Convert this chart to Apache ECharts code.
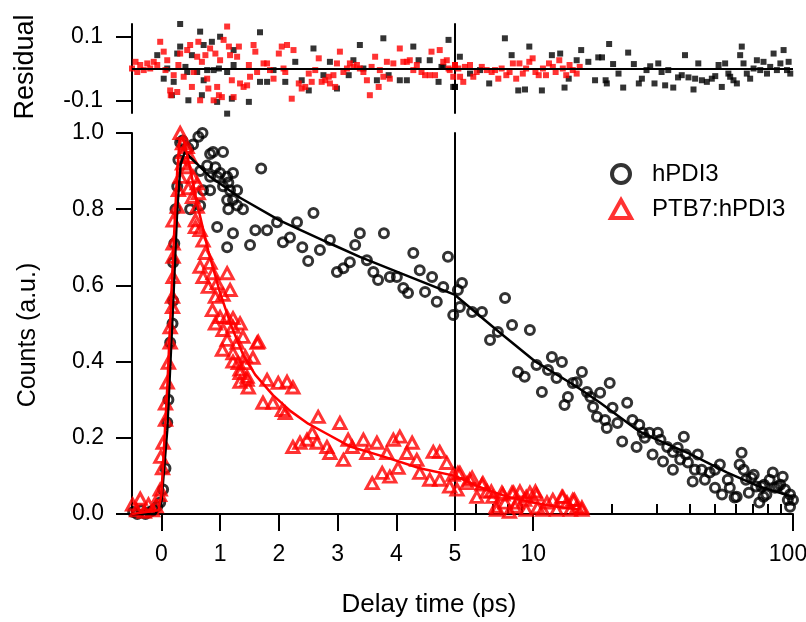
<!DOCTYPE html>
<html>
<head>
<meta charset="utf-8">
<script src="https://cdn.jsdelivr.net/npm/echarts@6.0.0/dist/echarts.min.js"></script>
<style>
html,body{margin:0;padding:0;background:#fff;}
#chart{width:806px;height:622px;}
</style>
</head>
<body>
<div id="chart"></div>
<script>
// ---------------- DATA ----------------
const xLinTicks = [0, 1, 2, 3, 4, 5];
const xLogMajor = [10, 100];
const xLogMinor = [6, 7, 8, 9, 20, 30, 40, 50, 60, 70, 80, 90];
const yMainTicks = [0, 0.2, 0.4, 0.6, 0.8, 1.0];
const yResTicks = [-0.1, 0.1];

const seriesNames = ['hPDI3', 'PTB7:hPDI3'];

// hPDI3 counts [delay ps, counts]
const hpdi3Counts = [
[-0.48,0.005],[-0.41,0],[-0.34,0.01],[-0.27,0.0],[-0.20,0.005],[-0.14,0.01],[-0.07,0.02],[-0.02,0.03],
[0.03,0.064],[0.07,0.12],[0.10,0.24],[0.12,0.30],[0.15,0.45],[0.19,0.50],[0.20,0.56],[0.20,0.66],[0.22,0.71],[0.24,0.80],[0.27,0.86],[0.29,0.93],[0.32,0.975],[0.36,0.98],[0.46,0.96],[0.54,0.97],[0.63,0.99],[0.70,1.0],
[0.49,0.80],[0.66,0.81],[0.66,0.90],[0.78,0.915],[0.83,0.945],[0.88,0.95],[0.92,0.91],[0.83,0.885],[0.83,0.85],[0.71,0.85],[1.0,0.895],[1.05,0.95],[0.95,0.885],[1.05,0.86],[1.12,0.885],[1.14,0.87],[1.17,0.85],[1.22,0.895],[1.29,0.85],[1.12,0.824],[1.22,0.824],[1.14,0.80],[1.39,0.80],[1.29,0.81],[1.70,0.907],[0.95,0.753],[1.22,0.737],[1.12,0.70],[1.51,0.706],[1.60,0.745],[1.80,0.745],[1.97,0.766],[2.07,0.713],[2.19,0.726],[2.31,0.766],[2.40,0.70],[2.50,0.664],[2.59,0.79],[2.70,0.693],[2.87,0.719],[2.99,0.635],[3.10,0.645],[3.21,0.661],[3.30,0.706],[3.38,0.737],[3.50,0.666],[3.61,0.635],[3.69,0.614],[3.79,0.737],[3.89,0.622],[4.01,0.622],[4.12,0.593],[4.20,0.58],[4.29,0.685],[4.40,0.64],[4.49,0.583],[4.61,0.622],[4.69,0.557],[4.80,0.596],[4.88,0.675],[4.97,0.522],
[5.13,0.588],[5.22,0.543],[5.32,0.606],[5.82,0.53],[6.35,0.53],[6.82,0.457],[7.31,0.478],[7.79,0.567],[8.29,0.496],[8.74,0.373],[9.27,0.36],[9.71,0.483],[10.3,0.391],[10.8,0.32],[11.4,0.378],[11.8,0.412],[12.3,0.357],[12.9,0.399],[13.2,0.286],[13.6,0.307],[14.2,0.344],[14.7,0.346],[15.4,0.373],[16.1,0.32],[16.6,0.307],[17.0,0.281],[17.6,0.255],[18.1,0.318],[18.9,0.247],[19.2,0.226],[19.7,0.344],[20.2,0.279],[21.1,0.239],[22.0,0.19],[23.0,0.292],[24.1,0.247],[25.0,0.176],[25.6,0.234],[26.4,0.213],[26.9,0.2],[28.0,0.213],[28.8,0.156],[30.2,0.213],[30.9,0.195],[31.6,0.138],[32.8,0.176],[34.5,0.116],[34.5,0.163],[36.0,0.174],[36.8,0.143],[38.0,0.203],[38.7,0.156],[39.4,0.135],[41.1,0.085],[41.9,0.116],[43.0,0.156],[44.5,0.116],[45.8,0.09],[47.8,0.109],[50.1,0.116],[50.1,0.069],[52.3,0.13],[53.3,0.051],[56.1,0.09],[57.1,0.069],[59.6,0.043],[60.7,0.045],[62.3,0.13],[63.4,0.161],[64.6,0.116],[65.9,0.09],[67.6,0.056],[69.2,0.095],[70.6,0.103],[72.1,0.072],[74.2,0.03],[75.6,0.072],[77.0,0.045],[77.4,0.077],[79.0,0.051],[81.3,0.09],[83.6,0.109],[85.2,0.069],[87.4,0.072],[89.3,0.077],[91.3,0.098],[93.1,0.064],[95.5,0.037],[97.4,0.051],[97.4,0.019],[100,0.037]
];

// hPDI3 fit
const hpdi3Fit = [
[-0.5,0],[-0.1,0],[0,0.03],[0.1,0.22],[0.2,0.55],[0.27,0.8],[0.33,0.92],[0.4,0.95],[0.5,0.935],[0.6,0.92],[0.83,0.885],[1.34,0.83],[2.02,0.77],[2.93,0.706],[3.38,0.675],[4.06,0.633],[5,0.575],
[6.35,0.515],[7.47,0.475],[10.1,0.402],[14.7,0.334],[18.1,0.292],[25.7,0.216],[29.9,0.195],[40.1,0.158],[55.6,0.109],[74.2,0.072],[100,0.045]
];

// PTB7:hPDI3 counts
const ptbCounts = [
[-0.49,0.025],[-0.42,0.01],[-0.36,0.04],[-0.29,0.006],[-0.22,0.025],[-0.15,0.01],[-0.09,0.02],[-0.03,0.05],
[-0.02,0.064],[0.02,0.12],[-0.01,0.15],[0.03,0.187],[0.07,0.247],[0.07,0.29],[0.10,0.345],[0.12,0.397],[0.15,0.45],[0.15,0.49],[0.19,0.543],[0.19,0.57],[0.20,0.622],[0.20,0.675],[0.20,0.71],[0.20,0.77],[0.27,0.806],[0.29,0.85],[0.32,0.885],[0.36,0.92],[0.37,0.95],[0.36,0.973],[0.32,1.0],
[0.44,0.963],[0.49,0.937],[0.44,0.91],[0.54,0.885],[0.61,0.868],[0.46,0.855],[0.53,0.832],[0.63,0.842],[0.61,0.806],[0.58,0.771],[0.58,0.753],[0.66,0.745],[0.71,0.718],[0.75,0.685],[0.66,0.649],[0.83,0.659],[0.71,0.622],[0.88,0.632],[0.80,0.596],[0.95,0.606],[1.12,0.632],[0.92,0.57],[1.05,0.575],[1.17,0.588],[0.87,0.535],[1.0,0.517],[1.12,0.517],[1.22,0.514],[0.92,0.5],[1.05,0.483],[1.22,0.491],[1.34,0.5],[1.12,0.457],[1.29,0.449],[1.39,0.465],[1.22,0.422],[1.31,0.396],[1.43,0.396],[1.34,0.37],[1.46,0.352],[1.63,0.449],[1.04,0.431],[1.43,0.413],[1.56,0.41],[1.22,0.40],[1.34,0.379],[1.46,0.36],[1.34,0.347],[1.48,0.332],[1.65,0.452],[1.80,0.352],[1.99,0.344],[2.14,0.347],[2.24,0.332],[1.73,0.292],[1.90,0.292],[2.06,0.273],[2.11,0.265],[2.24,0.176],[2.36,0.187],[2.48,0.195],[2.57,0.213],[2.67,0.255],[2.65,0.187],[2.82,0.176],[2.87,0.16],[3.04,0.239],[3.1,0.142],[3.18,0.195],[3.25,0.176],[3.44,0.195],[3.5,0.16],[3.59,0.081],[3.67,0.187],[3.76,0.108],[3.84,0.16],[3.89,0.098],[3.95,0.195],[4.06,0.203],[4.03,0.121],[4.18,0.16],[4.27,0.187],[4.35,0.142],[4.40,0.108],[4.57,0.09],[4.63,0.163],[4.74,0.163],[4.74,0.09],[4.86,0.134],[4.91,0.072],[4.97,0.103],
[5.09,0.064],[5.13,0.108],[5.22,0.108],[5.56,0.081],[5.7,0.09],[5.82,0.095],[6.07,0.045],[6.35,0.077],[6.4,0.081],[6.64,0.059],[6.9,0.059],[7.0,0.045],[7.2,0.019],[7.23,0.011],[7.58,0.056],[7.65,0.051],[7.79,0.03],[8.1,0.006],[8.29,0.056],[8.4,0.056],[8.51,0.019],[8.66,0.03],[8.89,0.059],[9.27,0.037],[9.4,0.011],[9.4,0.045],[9.71,0.056],[10.2,0.059],[10.3,0.051],[10.4,0.017],[10.9,0.011],[11.3,0.03],[11.9,0.037],[12.3,0.011],[12.9,0.045],[13.0,0.045],[13.5,0.03],[13.9,0.011],[14.2,0.037],[14.4,0.037],[14.7,0.017],[15.4,0.011],[15.4,0.017]
];

// PTB7:hPDI3 fit
const ptbFit = [
[-0.5,0],[-0.05,0.01],[0,0.05],[0.1,0.33],[0.2,0.68],[0.27,0.9],[0.31,0.98],[0.35,0.99],[0.4,0.97],[0.5,0.9],[0.6,0.82],[0.8,0.69],[1.0,0.58],[1.2,0.49],[1.4,0.415],[1.6,0.365],[1.9,0.312],[2.2,0.27],[2.5,0.237],[2.8,0.212],[3.2,0.178],[3.8,0.15],[4.4,0.12],[5,0.1],
[6,0.075],[7,0.058],[8,0.045],[10,0.03],[12,0.02],[15,0.012]
];

// hPDI3 residuals
const hpdi3Resid = [
[0.32,0.14],[0.66,0.116],[0.32,0.069],[-0.07,0.042],[0.27,0.047],[0.52,0.042],[0.72,0.074],[0.86,0.084],[1.00,0.1],[1.23,0.058],[1.68,0.114],[0.10,0],[0.21,-0.042],[0.04,-0.032],[0.41,0.005],[0.44,-0.011],[0.61,-0.011],[0.72,-0.037],[0.78,-0.005],[0.89,-0.005],[0.98,0],[1.12,-0.011],[1.23,0.011],[0.18,-0.084],[0.46,-0.1],[0.69,-0.084],[0.95,-0.105],[1.12,-0.142],[1.20,-0.095],[1.49,-0.105],[1.68,-0.042],[1.80,-0.042],[1.91,-0.005],[2.11,-0.042],[2.28,0.021],[2.39,-0.037],[2.51,-0.069],[2.59,0.063],[2.76,-0.021],[2.87,0.021],[2.99,-0.063],[3.19,-0.021],[3.27,0.026],[3.38,0.074],[3.44,0],[3.67,-0.037],[3.78,0.095],[3.87,-0.021],[4.06,-0.037],[4.18,-0.037],[4.29,0.069],[4.38,0.026],[4.57,0.026],[4.72,-0.042],[4.77,0.005],[4.80,0.005],[4.89,0.09],[4.97,-0.058],
[5.0,-0.058],[5.22,0.037],[5.71,-0.016],[6.24,-0.005],[6.77,-0.047],[7.78,0.095],[8.26,0.042],[8.76,-0.069],[9.30,-0.066],[9.66,0.069],[10.8,-0.069],[11.8,0.042],[12.7,0.047],[13.2,-0.06],[13.7,-0.032],[14.7,0.026],[15.3,0.058],[16.3,0.021],[17.3,-0.037],[17.8,0.035],[18.4,0.035],[19.0,-0.037],[19.2,-0.047],[19.6,0.077],[20.3,0.014],[21.3,-0.016],[22.2,-0.06],[23.2,0.05],[24.4,0.014],[25.5,-0.047],[26.2,-0.032],[27.3,-0.005],[28.2,0.007],[29.3,-0.047],[30.3,0.016],[31.2,-0.011],[32.2,-0.053],[33.1,-0.005],[34.6,-0.06],[36.1,-0.028],[37.3,-0.021],[38.4,0.042],[39.6,-0.028],[41.4,-0.066],[42.0,-0.032],[43.2,0.016],[44.6,-0.037],[46.6,-0.042],[48.7,-0.032],[50.2,-0.024],[51.7,0.011],[53.2,-0.058],[54.8,0.016],[56.4,-0.016],[57.3,-0.026],[59.0,-0.037],[60.8,-0.047],[62.6,0.042],[63.5,0.069],[64.5,0.016],[66.4,-0.016],[68.4,-0.032],[70.5,0],[72.6,0.026],[74.8,-0.005],[77.0,0.021],[79.4,-0.016],[81.7,0.005],[84.2,0.047],[86.7,-0.005],[89.4,0.016],[92.0,0.058],[94.8,-0.005],[96.2,0.021],[97.6,-0.016]
];

// PTB7:hPDI3 residuals
const ptbResid = [
[-0.50,0.0],[-0.44,0.021],[-0.41,-0.011],[-0.36,0.011],[-0.30,-0.005],[-0.24,0.016],[-0.19,0],[-0.13,0.021],[-0.07,0.011],[-0.02,0.084],[0.04,0.053],[0.07,-0.005],[0.10,0.026],[0.15,-0.069],[0.21,-0.021],[0.16,-0.084],[0.27,-0.074],[0.29,0.011],[0.32,0.047],[0.38,-0.026],[0.44,0.058],[0.49,0.074],[0.52,-0.058],[0.55,-0.011],[0.61,0.037],[0.63,0.084],[0.66,-0.1],[0.69,0.021],[0.75,0.042],[0.78,-0.032],[0.80,-0.063],[0.83,0.063],[0.89,-0.1],[0.92,0.047],[0.95,-0.058],[0.98,-0.084],[1.00,0.026],[1.03,-0.09],[1.06,0.09],[1.12,0.132],[1.15,0.069],[1.17,0.042],[1.20,-0.037],[1.23,-0.09],[1.29,0.037],[1.32,0.069],[1.34,-0.047],[1.40,-0.058],[1.46,-0.053],[1.49,0.011],[1.51,-0.026],[1.57,0.074],[1.60,0.053],[1.63,-0.011],[1.74,0.016],[1.80,0.016],[1.85,-0.005],[1.91,-0.032],[2.00,0.047],[2.05,0.069],[2.08,0],[2.11,-0.011],[2.14,0.074],[2.22,-0.095],[2.25,0.058],[2.34,-0.047],[2.39,-0.063],[2.45,-0.058],[2.51,-0.016],[2.56,-0.042],[2.62,-0.005],[2.68,0.032],[2.73,-0.042],[2.79,-0.037],[2.85,-0.026],[2.87,-0.047],[2.93,-0.021],[2.96,-0.058],[2.99,0.016],[3.04,0.053],[3.10,-0.011],[3.16,0],[3.21,0.016],[3.27,0.005],[3.33,0.011],[3.38,0],[3.44,-0.011],[3.50,-0.037],[3.55,-0.084],[3.58,0.005],[3.64,0.037],[3.70,-0.058],[3.72,-0.005],[3.78,-0.026],[3.84,0.021],[3.89,-0.032],[3.95,0.016],[4.06,0.063],[4.12,0.021],[4.18,0.021],[4.23,0.026],[4.29,-0.005],[4.35,0.011],[4.43,-0.011],[4.49,-0.021],[4.57,-0.021],[4.60,0.053],[4.66,-0.021],[4.74,0.058],[4.80,0.021],[4.86,0.026],[4.89,0],[4.91,-0.005],[4.97,-0.026],
[5.0,0.011],[5.15,0],[5.23,-0.026],[5.38,-0.042],[5.46,0.005],[5.71,0.011],[5.88,-0.026],[6.06,-0.011],[6.34,0.005],[6.62,-0.005],[6.92,-0.011],[7.13,-0.005],[7.34,-0.032],[7.56,0],[7.88,-0.021],[8.11,-0.011],[8.35,0.016],[8.60,-0.032],[8.85,0.016],[9.12,-0.016],[9.39,0],[9.66,0.021],[9.95,0.032],[10.2,-0.011],[10.5,-0.021],[10.9,0],[11.2,-0.021],[11.5,0.016],[11.9,0.005],[12.2,-0.011],[12.6,0.026],[13.0,0],[13.4,-0.021],[13.8,0.011],[14.2,-0.005],[14.7,-0.016],[15.1,0.005]
];

// ---------------- BUILD ----------------
const BREAK = 5;
const leftPart = arr => arr.filter(p => p[0] <= BREAK);
const rightPart = arr => arr.filter(p => p[0] >= BREAK);

const FONT = 'Liberation Sans, Arial, sans-serif';
const BLACK = '#000000';
const RED = '#ff0000';

const gridBase = {containLabel: false, outerBoundsMode: 'none'};
const gridResL  = Object.assign({left:132, top:24,  width:323, height:89}, gridBase);
const gridResR  = Object.assign({left:455, top:24,  width:338, height:89}, gridBase);
const gridMainL = Object.assign({left:132, top:133, width:323, height:381}, gridBase);
const gridMainR = Object.assign({left:455, top:133, width:338, height:381}, gridBase);

const lineSt = {color: BLACK, width: 2};
const hiddenX = (grid, type, min, max) => ({
  type, gridIndex: grid, min, max, show: false
});

const option = {
  animation: false,
  backgroundColor: '#ffffff',
  textStyle: {fontFamily: FONT},
  grid: [gridResL, gridResR, gridMainL, gridMainR],
  xAxis: [
    hiddenX(0, 'value', -0.5, 5),
    Object.assign(hiddenX(1, 'log', 5, 100), {logBase: 10}),
    {
      type: 'value', gridIndex: 2, min: -0.5, max: 5,
      axisLine: {show: true, onZero: false, lineStyle: lineSt},
      axisTick: {show: true, inside: false, length: 17, lineStyle: lineSt, customValues: xLinTicks},
      axisLabel: {show: true, customValues: xLinTicks, color: BLACK, fontSize: 23, fontFamily: FONT, margin: 29},
      splitLine: {show: false}
    },
    {
      type: 'log', logBase: 10, gridIndex: 3, min: 5, max: 100,
      axisLine: {show: true, onZero: false, lineStyle: lineSt},
      axisTick: {show: true, inside: false, length: 17, lineStyle: lineSt, customValues: xLogMajor},
      axisLabel: {
        show: true, customValues: xLogMajor, color: BLACK, fontSize: 23, fontFamily: FONT, margin: 29,
        formatter: v => (Math.round(v) === 100 ? '{e|' + Math.round(v) + '}' : String(Math.round(v))),
        rich: {e: {fontSize: 23, fontFamily: FONT, color: BLACK, padding: [0, 10, 0, 0]}}
      },
      splitLine: {show: false}
    },
    {
      type: 'log', logBase: 10, gridIndex: 3, min: 5, max: 100,
      axisLine: {show: false},
      axisTick: {show: true, inside: false, length: 10, lineStyle: lineSt, customValues: xLogMinor},
      axisLabel: {show: false},
      splitLine: {show: false}
    }
  ],
  yAxis: [
    {
      type: 'value', gridIndex: 0, min: -0.14, max: 0.14,
      axisLine: {show: true, onZero: false, lineStyle: lineSt},
      axisTick: {show: true, inside: false, length: 16, lineStyle: lineSt, customValues: yResTicks},
      axisLabel: {show: true, customValues: yResTicks, color: BLACK, fontSize: 23, fontFamily: FONT, margin: 29,
        formatter: v => Number(v).toFixed(1)},
      splitLine: {show: false}
    },
    {
      type: 'value', gridIndex: 1, min: -0.14, max: 0.14,
      axisLine: {show: true, onZero: false, lineStyle: lineSt},
      axisTick: {show: false}, axisLabel: {show: false}, splitLine: {show: false}
    },
    {
      type: 'value', gridIndex: 2, min: 0, max: 1,
      axisLine: {show: true, onZero: false, lineStyle: lineSt},
      axisTick: {show: true, inside: false, length: 16, lineStyle: lineSt, customValues: yMainTicks},
      axisLabel: {show: true, customValues: yMainTicks, color: BLACK, fontSize: 23, fontFamily: FONT, margin: 28,
        formatter: v => Number(v).toFixed(1)},
      splitLine: {show: false}
    },
    {
      type: 'value', gridIndex: 3, min: 0, max: 1,
      axisLine: {show: true, onZero: false, lineStyle: lineSt},
      axisTick: {show: false}, axisLabel: {show: false}, splitLine: {show: false}
    }
  ],
  legend: {
    orient: 'vertical',
    left: 604, top: 157,
    itemGap: 11,
    itemWidth: 20, itemHeight: 18,
    selectedMode: false,
    textStyle: {color: BLACK, fontSize: 24, fontFamily: FONT, padding: [0, 0, 0, 16]},
    data: [
      {name: seriesNames[0], icon: 'circle', itemStyle: {color: 'rgba(0,0,0,0)', borderColor: BLACK, borderWidth: 4}},
      {name: seriesNames[1], icon: 'triangle', itemStyle: {color: 'rgba(0,0,0,0)', borderColor: RED, borderWidth: 4}}
    ]
  },
  graphic: [
    {type: 'text', x: 26, y: 67, rotation: Math.PI / 2,
      style: {text: 'Residual', fill: BLACK, font: '27px ' + FONT, textAlign: 'center', textVerticalAlign: 'middle'}},
    {type: 'text', x: 28, y: 335, rotation: Math.PI / 2,
      style: {text: 'Counts (a.u.)', fill: BLACK, font: '25px ' + FONT, textAlign: 'center', textVerticalAlign: 'middle'}},
    {type: 'text', x: 429, y: 605,
      style: {text: 'Delay time (ps)', fill: BLACK, font: '26px ' + FONT, textAlign: 'center', textVerticalAlign: 'middle'}}
  ],
  series: []
};

const zeroLine = {
  silent: true, symbol: 'none', label: {show: false},
  lineStyle: {color: BLACK, width: 2, type: 'solid'},
  data: [{yAxis: 0}]
};

function resid(data, xi, yi, color, name, withZero) {
  const s = {
    type: 'scatter', name, xAxisIndex: xi, yAxisIndex: yi, data,
    symbol: 'rect', symbolSize: 6, clip: false,
    itemStyle: {color}
  };
  if (withZero) s.markLine = zeroLine;
  return s;
}
function counts(data, xi, yi, name, color, symbol, size) {
  return {
    type: 'scatter', name, xAxisIndex: xi, yAxisIndex: yi, data,
    symbol, symbolSize: size, clip: false,
    itemStyle: {color: 'rgba(0,0,0,0)', borderColor: color, borderWidth: 3}
  };
}
function fit(data, xi, yi, color, name) {
  return {
    type: 'line', name, xAxisIndex: xi, yAxisIndex: yi, data,
    showSymbol: false, symbol: 'none', smooth: false, clip: false,
    lineStyle: {color, width: 2.5}
  };
}

option.series.push(
  resid(leftPart(hpdi3Resid), 0, 0, BLACK, 'resA', true),
  resid(leftPart(ptbResid), 0, 0, RED, 'resB', false),
  resid(rightPart(hpdi3Resid), 1, 1, BLACK, 'resC', true),
  resid(rightPart(ptbResid), 1, 1, RED, 'resD', false),
  counts(leftPart(hpdi3Counts), 2, 2, seriesNames[0], BLACK, 'circle', 9),
  fit(leftPart(hpdi3Fit), 2, 2, BLACK, 'fitA'),
  counts(rightPart(hpdi3Counts), 3, 3, seriesNames[0], BLACK, 'circle', 9),
  fit(rightPart(hpdi3Fit), 3, 3, BLACK, 'fitB'),
  counts(leftPart(ptbCounts), 2, 2, seriesNames[1], RED, 'triangle', [12, 11]),
  fit(leftPart(ptbFit), 2, 2, RED, 'fitC'),
  counts(rightPart(ptbCounts), 3, 3, seriesNames[1], RED, 'triangle', [12, 11]),
  fit(rightPart(ptbFit), 3, 3, RED, 'fitD')
);

const chart = echarts.init(document.getElementById('chart'), null, {renderer: 'canvas'});
chart.setOption(option);
</script>
</body>
</html>
